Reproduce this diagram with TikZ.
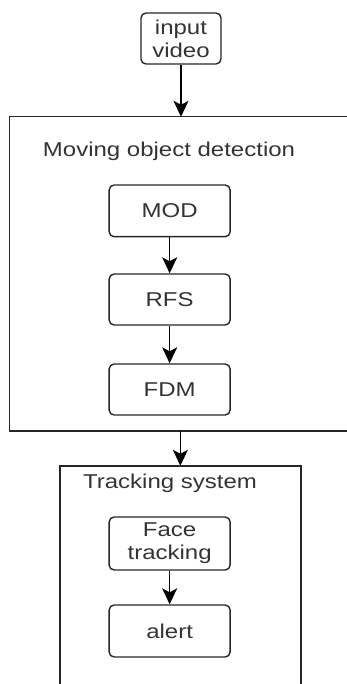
\documentclass[tikz,border=0pt]{standalone}
\usepackage{fontspec}
\setmainfont{Liberation Sans}[FakeStretch=1.2]
\usetikzlibrary{arrows.meta}
\tikzset{
  box/.style={draw=black!85, line width=1.4pt, rounded corners=5pt, minimum width=121pt,
    inner sep=0pt, align=center, text=black!80, font=\fontsize{20}{23}\selectfont},
  frame/.style={inner sep=0pt},
  frameline/.style={draw=black!85, line width=1.4pt},
  arr/.style={line width=1.4pt, draw=black, -{Stealth[length=16pt,width=15pt,inset=4pt]}},
  ttl/.style={text=black!80, inner sep=0pt, font=\fontsize{20}{23}\selectfont}
}
\begin{document}
\begin{tikzpicture}[x=1pt,y=-1pt]
\useasboundingbox (0,0) rectangle (347,684);
\clip (0,0) rectangle (347,684);
\node[frame, minimum width=361pt, minimum height=313.7pt] (f1) at (190,273.85) {};
\node[frame, minimum width=240.7pt, minimum height=234pt] (f2) at (180.35,583) {};
\draw[frameline] (f1.north east) -- (f1.north west) -- (f1.south west) -- (f1.south east);
\draw[frameline] (f2.south west) -- (f2.north west) -- (f2.north east) -- (f2.south east);
\node[ttl] (t1) at (169,151) {Moving object detection};
\node[ttl] (t2) at (170,483) {Tracking system};
\node[box, minimum width=80pt, minimum height=51pt] (input) at (181,38.5) {input\\video};
\node[box, minimum height=51.7pt] (mod) at (169.65,210.85) {MOD};
\node[box, minimum height=51pt] (rfs) at (169.65,299.5) {RFS};
\node[box, minimum height=51pt] (fdm) at (169.65,389.5) {FDM};
\node[box, minimum height=53pt] (face) at (169.65,543.5) {Face\\tracking};
\node[box, minimum height=52pt] (alert) at (169.65,631) {alert};
\draw[arr] (input.south) -- (input.south |- f1.north);
\draw[arr] (mod) -- (rfs);
\draw[arr] (rfs) -- (fdm);
\draw[arr] (f1.south -| f2.north) -- (f2.north);
\draw[arr] (face) -- (alert);
\end{tikzpicture}
\end{document}
